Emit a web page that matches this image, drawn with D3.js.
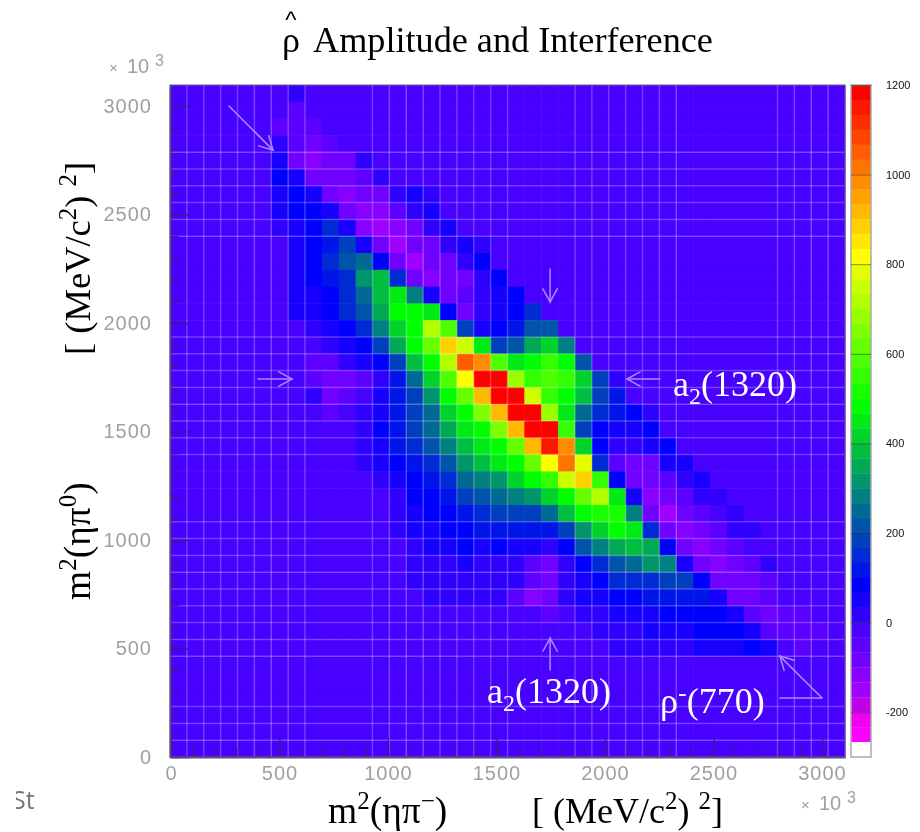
<!DOCTYPE html>
<html>
<head>
<meta charset="utf-8">
<script src="https://cdn.jsdelivr.net/npm/d3@7"></script>
<style>
  body { margin: 0; background: #fff; }
  svg { filter: blur(0.55px); }
  text { font-family: "Liberation Serif", serif; }
  .axis text { font-family: "Liberation Sans", sans-serif; font-size: 20px; fill: #a0a0a0; letter-spacing: 1px; }
  .axis path { stroke: #4a3a7a; stroke-width: 1.5; }
  .axis line { stroke: #33207f; stroke-width: 1.3; }
  .zaxis text { font-family: "Liberation Sans", sans-serif; font-size: 11px; fill: #111; }
</style>
</head>
<body>
<svg id="chart" width="920" height="832"></svg>
<script>
// Histogram: 40 x 40 bins, rows run from the top of the plot down
const binCount = 40;
const background = -17;

// first filled column of each row
const rowStarts = [7, 7, 6, 6, 6, 6, 6, 6, 6, 7, 7, 7, 7, 7, 8, 9, 7, 8, 8, 9,
  11, 11, 11, 12, 13, 13, 13, 13, 14, 14, 15, 22, 25, 26];

// bin contents, from the first filled column onward
const rowValues = [
  [17],
  [-50],
  [-50, -50, -50],
  [17, -50, -83, -50],
  [50, -83, -117, -83, -83, 17],
  [83, 50, -83, -100, -100, -50, 17],
  [50, 83, 50, -100, -117, -100, -83, 17, 50, 17],
  [50, 83, 83, 50, -83, -117, -117, -50, 17, 50],
  [17, 50, 83, 150, 50, -117, -150, -117, -83, 17, 50],
  [50, 83, 120, 183, 50, -100, -150, -100, -83, 17, 50, 17],
  [50, 83, 150, 217, 250, 83, -100, -150, -100, -83, 17, 83],
  [50, 83, 117, 150, 300, 370, 150, -83, -117, -83, -83, 17, 83],
  [50, 50, 83, 150, 250, 383, 450, 283, 50, -100, -50, 17, 50, 83],
  [50, 50, 83, 150, 217, 350, 483, 483, 450, 83, -83, 17, 50, 83, 150],
  [17, 50, 83, 150, 283, 417, 483, 717, 583, 183, 50, 83, 117, 217, 217],
  [17, 50, 83, 183, 350, 483, 617, 883, 750, 450, 183, 217, 350, 417, 283],
  [-17, -50, -50, 17, 50, 83, 183, 383, 483, 717, 1050, 983, 583, 450, 483, 550, 483, 217],
  [-50, -83, -83, -50, 17, 117, 250, 417, 583, 817, 1183, 1183, 683, 550, 583, 550, 417, 183, 17],
  [17, -83, -50, -17, 50, 117, 183, 317, 483, 617, 917, 1183, 1183, 750, 550, 483, 383, 183, 117],
  [-50, -17, 17, 50, 117, 183, 250, 417, 483, 650, 917, 1183, 1183, 683, 450, 250, 150, 100, 83, 17],
  [17, 83, 117, 183, 250, 350, 450, 483, 650, 917, 1183, 1183, 550, 183, 83, 50, 50, 83],
  [17, 50, 117, 150, 217, 283, 383, 450, 483, 617, 917, 1150, 983, 417, 83, 17, 17, 50, 83],
  [17, 50, 83, 117, 150, 217, 317, 383, 450, 483, 617, 817, 1017, 783, 150, -50, -83, -83, 50, 50],
  [17, 50, 83, 117, 150, 250, 283, 317, 417, 483, 550, 750, 883, 550, 83, -83, -83, -50, 17, 50],
  [17, 83, 83, 117, 183, 217, 250, 283, 317, 417, 483, 617, 717, 450, 50, -117, -83, -50, 17, 17],
  [17, 50, 83, 83, 117, 150, 183, 183, 183, 250, 383, 483, 517, 517, 283, -100, -150, -100, -50, -17, 17],
  [17, 50, 50, 83, 83, 117, 117, 117, 117, 117, 183, 317, 417, 483, 450, 150, -100, -117, -83, -50, 17, 17],
  [-17, 17, 50, 50, 83, 50, 83, 50, 50, 17, 83, 217, 283, 350, 383, 350, 83, -83, -117, -100, -50, -17],
  [17, 17, 17, 50, 17, 17, 17, -50, -83, 17, 83, 150, 217, 250, 317, 283, 50, -83, -117, -83, -50, 17],
  [17, 17, 17, 17, 17, 17, 17, -50, -83, 17, 50, 83, 150, 150, 150, 183, 183, 83, -83, -83, -83, -50, -17],
  [17, 17, 17, 17, 17, -50, -117, -83, 17, 50, 50, 83, 83, 117, 117, 117, 117, 50, -83, -83, -50, -17],
  [-50, -17, 17, 17, 50, 50, 50, 83, 83, 83, 83, 50, -50, -83, -50, -50, -17],
  [17, 17, 17, 50, 50, 50, 83, 83, 83, 50, -50, -50, -50, -50],
  [17, 17, 17, 17, 17, 50, 50, 50, 83, 50, -17, -50, -17]
];

// Colour bands of the palette, top of the colour bar first
const palette = [
  '#ff0000', '#ff1700', '#ff2e00', '#ff4600', '#ff5d00', '#ff7400', '#ff8b00', '#ffa200', '#ffb900',
  '#ffd100', '#ffe800', '#ffff00', '#e6ff00', '#ccff00', '#b3ff00', '#99ff00', '#80ff00', '#66ff00',
  '#4dff00', '#33ff00', '#1aff00', '#00ff00', '#00ea15', '#00d42b', '#00bf40', '#00aa55', '#00956a',
  '#008080', '#006a95', '#0055aa', '#0040bf', '#002bd4', '#0015ea', '#0000ff', '#1800ff', '#3000ff',
  '#4800ff', '#5c00ff', '#7000ff', '#8800ff', '#a000ff', '#c000e8', '#f000f0', '#ff00ff', '#ffffff'
];

// Bin edges that show up as light lines in the picture
const gridColumns = [1, 2, 3, 4, 5, 6, 7, 8, 12, 13, 14, 15, 16, 17, 18, 19, 20, 24, 25, 26, 27, 28, 29, 30, 36, 37, 38, 39];
const gridRows = [4, 5, 6, 7, 8, 9, 15, 16, 17, 18, 19, 20, 21, 22, 26, 27, 28, 29, 30, 31, 32, 33, 34, 37, 38, 39];

const majorTicks = [0, 500, 1000, 1500, 2000, 2500, 3000];
const minorTicks = d3.range(0, 3001, 100);
const colorTicks = [-200, 0, 200, 400, 600, 800, 1000, 1200];

// Arrows in axis units: [x1, y1, x2, y2, has head]
const arrows = [
  [267, 3000, 470, 2797, true],
  [1747, 2249, 1747, 2097, true],
  [2253, 1742, 2101, 1742, true],
  [401, 1742, 558, 1742, true],
  [1747, 401, 1747, 548, true],
  [3000, 272, 2806, 465, true],
  [3000, 272, 2806, 272, false]
];

const svg = d3.select('#chart');

// Scales
const plot = { left: 170, right: 845, top: 85, bottom: 757 };
const xScale = d3.scaleLinear().domain([0, 3106]).range([171, 845]);
const yScale = d3.scaleLinear().domain([0, 3097]).range([757, 85]);
const colBand = d3.scaleBand().domain(d3.range(binCount)).range([plot.left, plot.right]);
const rowBand = d3.scaleBand().domain(d3.range(binCount)).range([plot.top, plot.bottom]);
const colorScale = d3.scaleQuantize().domain([-300, 1200]).range(palette.slice().reverse());
const barBand = d3.scaleBand().domain(palette).range([85, 757]);
const barScale = d3.scaleLinear().domain([-300, 1200]).range([757, 85]);

// Expand the rows into one record per bin
const cells = [];
for (let row = 0; row < binCount; row++) {
  for (let col = 0; col < binCount; col++) {
    const start = rowStarts[row];
    const values = rowValues[row] || [];
    const inside = col >= start && col < start + values.length;
    cells.push({ row, col, value: inside ? values[col - start] : background });
  }
}

// Draw the bins
svg.append('g').selectAll('rect')
  .data(cells)
  .enter().append('rect')
  .attr('x', d => colBand(d.col))
  .attr('y', d => rowBand(d.row))
  .attr('width', colBand.bandwidth() + 0.5)
  .attr('height', rowBand.bandwidth() + 0.5)
  .attr('fill', d => colorScale(d.value));

// Light lines between some of the bins
const grid = svg.append('g').attr('stroke', '#fff').attr('stroke-opacity', 0.24).attr('stroke-width', 1.5);
grid.selectAll('.vgrid')
  .data(gridColumns)
  .enter().append('line')
  .attr('class', 'vgrid')
  .attr('x1', d => colBand(d)).attr('x2', d => colBand(d))
  .attr('y1', plot.top).attr('y2', plot.bottom);
grid.selectAll('.hgrid')
  .data(gridRows)
  .enter().append('line')
  .attr('class', 'hgrid')
  .attr('y1', d => rowBand(d)).attr('y2', d => rowBand(d))
  .attr('x1', plot.left).attr('x2', plot.right);

// Axes, the ticks point into the plot
const gx = svg.append('g').attr('class', 'axis').attr('transform', `translate(0,${plot.bottom})`);
gx.call(d3.axisBottom(xScale).tickValues(minorTicks).tickFormat('').tickSize(-9).tickSizeOuter(0));
gx.append('g').call(d3.axisBottom(xScale).tickValues(majorTicks).tickFormat(d3.format('d')).tickSize(-19).tickPadding(9).tickSizeOuter(0));

const gy = svg.append('g').attr('class', 'axis').attr('transform', `translate(${plot.left},0)`);
gy.call(d3.axisLeft(yScale).tickValues(minorTicks).tickFormat('').tickSize(-9).tickSizeOuter(0));
gy.append('g').call(d3.axisLeft(yScale).tickValues(majorTicks).tickFormat(d3.format('d')).tickSize(-19).tickPadding(18).tickSizeOuter(0));

svg.append('rect')
  .attr('x', plot.left).attr('y', plot.top)
  .attr('width', plot.right - plot.left).attr('height', plot.bottom - plot.top)
  .attr('fill', 'none').attr('stroke', '#6a5a9a').attr('stroke-width', 1);

// Colour bar
svg.append('g').selectAll('rect')
  .data(palette)
  .enter().append('rect')
  .attr('x', 851)
  .attr('y', d => barBand(d))
  .attr('width', 20)
  .attr('height', barBand.bandwidth() + 0.3)
  .attr('fill', d => d);
svg.append('rect')
  .attr('x', 851).attr('y', 85).attr('width', 20).attr('height', 672)
  .attr('fill', 'none').attr('stroke', '#aaa').attr('stroke-width', 1.5);

const zAxis = svg.append('g').attr('class', 'zaxis').attr('transform', 'translate(871,0)')
  .call(d3.axisRight(barScale).tickValues(colorTicks).tickFormat(d => String(d)).tickSize(-20).tickPadding(15).tickSizeOuter(0));
zAxis.select('.domain').remove();
zAxis.selectAll('line').attr('stroke', '#333').attr('stroke-opacity', 0.55);

// Arrows with open heads
const arrowGroup = svg.append('g')
  .attr('stroke', '#a98dff').attr('stroke-width', 1.5).attr('fill', 'none').attr('stroke-linecap', 'round');
arrows.forEach(a => {
  const x1 = xScale(a[0]), y1 = yScale(a[1]), x2 = xScale(a[2]), y2 = yScale(a[3]);
  arrowGroup.append('path').attr('d', d3.line()([[x1, y1], [x2, y2]]));
  if (a[4]) {
    const angle = Math.atan2(y2 - y1, x2 - x1);
    const head = [angle - 0.5, angle + 0.5].map(t => [x2 - 15 * Math.cos(t), y2 - 15 * Math.sin(t)]);
    arrowGroup.append('path').attr('d', d3.line()([head[0], [x2, y2], head[1]]));
  }
});

// Text made of plain and raised parts: [string, dy, size]
function addText(parent, x, y, size, fill, parts) {
  const t = parent.append('text').attr('x', x).attr('y', y).attr('font-size', size).attr('fill', fill);
  parts.forEach(p => {
    t.append('tspan').attr('dy', p[1] || 0).attr('font-size', p[2] || size).text(p[0]);
  });
  return t;
}

// Title
addText(svg, 282, 52, 36, '#000', [['ρ']]);
svg.append('text').attr('x', 291).attr('y', 28).attr('text-anchor', 'middle')
  .attr('font-size', 24).style('font-family', '"Liberation Sans", sans-serif').text('^');
addText(svg, 313, 52, 36.2, '#000', [['Amplitude and Interference']]);

// Axis titles
const massParts = [['m'], ['2', -14, 25], ['(ηπ', 14], ['−', -14, 25], [')', 14]];
const massPartsY = [['m'], ['2', -14, 25], ['(ηπ', 14], ['0', -14, 25], [')', 14]];
const unitParts = [['[ (MeV/c'], ['2', -14, 25], [')', 14], [' '], ['2', -14, 25], [']', 14]];

addText(svg, 328, 823, 37.5, '#000', massParts);
addText(svg, 532, 823, 36, '#000', unitParts);

const yTitle = svg.append('g').attr('transform', 'translate(90,0) rotate(-90)');
addText(yTitle, -600, 0, 37.5, '#000', massPartsY);
addText(yTitle, -355, 0, 36.5, '#000', unitParts);

// Exponent notes of the axes
function addExponent(x, y) {
  const g = svg.append('g').attr('fill', '#a0a0a0').style('font-family', '"Liberation Sans", sans-serif');
  g.append('text').attr('x', x).attr('y', y).attr('font-size', 15).style('font-family', 'inherit').text('×');
  g.append('text').attr('x', x + 18).attr('y', y).attr('font-size', 20).style('font-family', 'inherit').text('10');
  g.append('text').attr('x', x + 46).attr('y', y - 7).attr('font-size', 16).style('font-family', 'inherit').text('3');
}
addExponent(109, 73);
addExponent(801, 810);

// Annotations on the plot
addText(svg, 673, 396, 36, '#fff', [['a'], ['2', 8, 24], ['(1320)', -8]]);
addText(svg, 487, 703, 36, '#fff', [['a'], ['2', 8, 24], ['(1320)', -8]]);
addText(svg, 660, 713, 36, '#fff', [['ρ'], ['-', -12, 26], ['(770)', 12]]);

// Leftover of the page the figure was cut from
svg.append('clipPath').attr('id', 'cut').append('rect').attr('x', 16).attr('y', 780).attr('width', 40).attr('height', 40);
svg.append('text').attr('x', 12).attr('y', 809).attr('clip-path', 'url(#cut)')
  .attr('font-size', 25).attr('fill', '#777').style('font-family', '"Open Sans", sans-serif').text('St');
</script>
</body>
</html>
